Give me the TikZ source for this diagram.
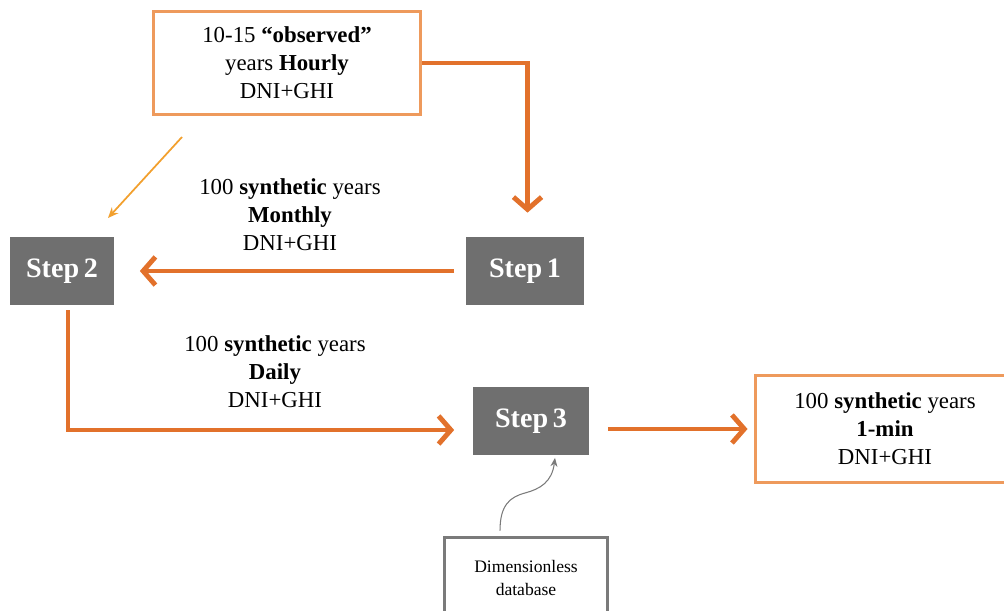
\documentclass[tikz,border=0pt]{standalone}
\usepackage{fontspec}
\setmainfont{Liberation Serif}
\usetikzlibrary{arrows.meta}
\definecolor{flowor}{HTML}{E2712B}
\definecolor{boxor}{HTML}{EE9A5C}
\definecolor{thinor}{HTML}{F2A02E}
\definecolor{stepgray}{HTML}{6F6F6F}
\definecolor{dbgray}{HTML}{7A7A7A}
\tikzset{
  databox/.style={draw=boxor, line width=1.7pt, fill=white, align=center, font=\fontsize{13}{16}\selectfont},
  stepbox/.style={fill=stepgray, text=white, font=\fontsize{16}{20}\selectfont\bfseries},
  label/.style={align=center, font=\fontsize{13}{16}\selectfont},
  flow/.style={draw=flowor, line width=2.8pt, -{Straight Barb[length=7pt, width=16pt]}},
  thin/.style={draw=thinor, line width=1pt, -{Stealth[length=6pt, width=5pt]}},
  curvy/.style={draw=dbgray, line width=0.6pt, -{Stealth[length=5pt, width=4pt]}}
}

\begin{document}
\begin{tikzpicture}[x=0.02cm, y=-0.02cm]
		\useasboundingbox (0,0) rectangle (1004,611);
		% boxes
		\node[databox, minimum width=5.36cm, minimum height=2.06cm] (obs) at (287,63)
			{10-15 \textbf{“observed”}\\years \textbf{Hourly}\\DNI+GHI};
		\node[stepbox, minimum width=2.38cm, minimum height=1.36cm] (S1) at (525,271) {Step\,1};
		\node[stepbox, minimum width=2.1cm, minimum height=1.36cm] (S2) at (62,271) {Step\,2};
		\node[stepbox, minimum width=2.34cm, minimum height=1.38cm] (S3) at (531,421) {Step\,3};
		\node[databox, minimum width=5.2cm, minimum height=2.14cm] (out) at (885,429)
			{100 \textbf{synthetic} years\\\textbf{1-min}\\DNI+GHI};
		\node[draw=dbgray, line width=1.7pt, align=center, font=\fontsize{10}{13}\selectfont,
			minimum width=3.28cm, minimum height=1.64cm] (db) at (526,578) {Dimensionless\\database};
		% labels
		\node[label] (monthly) at (290,215) {100 \textbf{synthetic} years\\\textbf{Monthly}\\DNI+GHI};
		\node[label] (daily) at (275,372) {100 \textbf{synthetic} years\\\textbf{Daily}\\DNI+GHI};
		% arrows
		\coordinate (t1) at (182,137);
		\coordinate (t2) at (108,218);
		\draw[flow, shorten >=0.48cm] (obs.east) -| ([xshift=0.05cm]S1.north);
		\draw[flow, shorten <=0.22cm, shorten >=0.5cm] (S1.west) -- (S2.east);
		\draw[flow, shorten <=0.1cm, shorten >=0.36cm] ([xshift=0.12cm]S2.south) |- ([yshift=-0.18cm]S3.west);
		\draw[flow, shorten <=0.36cm, shorten >=0.12cm] (S3.east |- out.west) -- (out.west);
		\draw[thin] (t1) -- (t2);
		\draw[curvy] ([xshift=-0.52cm, yshift=0.1cm]db.north) .. controls (500,505) and (510,497) .. (525,493)
			.. controls (540,489) and (552,482) .. ([xshift=0.48cm, yshift=-0.04cm]S3.south);
	\end{tikzpicture}
\end{document}
